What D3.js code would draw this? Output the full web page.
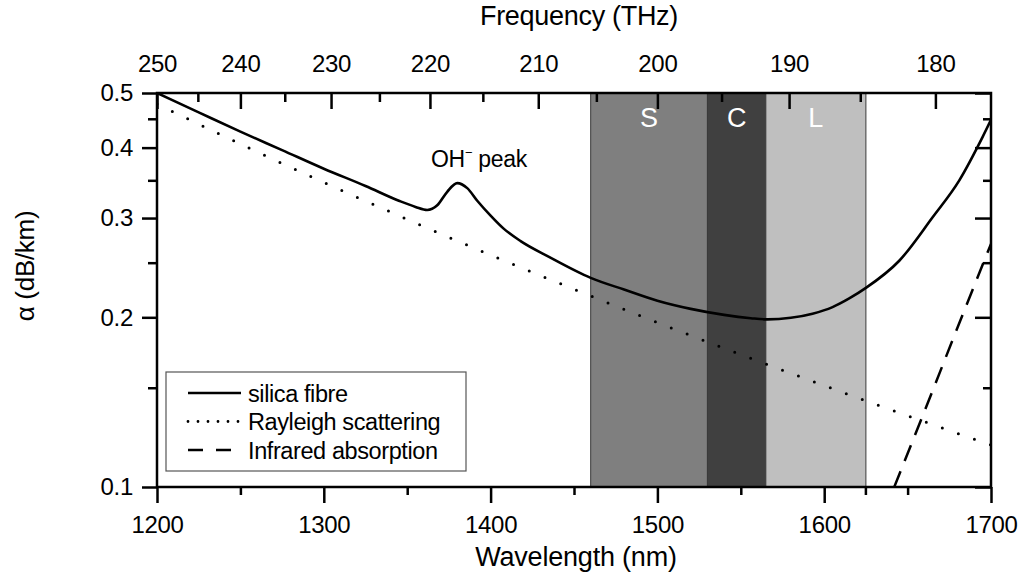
<!DOCTYPE html>
<html>
<head>
<meta charset="utf-8">
<script src="https://cdn.jsdelivr.net/npm/d3@7"></script>
<style>
  html, body { margin: 0; padding: 0; background: #fff; }
  svg text { font-family: "Liberation Sans", Arial, sans-serif; fill: #000; }
</style>
</head>
<body>
<svg id="chart" width="1029" height="580"></svg>
<script>
// Attenuation of silica fibre vs wavelength (nm), loss in dB/km
const silicaWl   = [1200, 1225, 1250, 1275, 1300, 1325, 1345, 1355, 1362, 1368, 1374, 1380, 1386, 1392, 1400, 1408, 1418, 1435, 1460, 1480, 1500, 1520, 1540, 1556, 1566, 1580, 1593, 1605, 1615, 1625, 1645, 1665, 1681, 1695, 1700];
const silicaLoss = [0.500, 0.462, 0.427, 0.396, 0.367, 0.342, 0.322, 0.314, 0.310, 0.316, 0.334, 0.346, 0.339, 0.322, 0.303, 0.287, 0.273, 0.256, 0.235, 0.224, 0.214, 0.207, 0.2020, 0.1993, 0.1983, 0.1996, 0.2030, 0.2085, 0.216, 0.2255, 0.252, 0.301, 0.350, 0.418, 0.448];

const rayleighWl   = [1200, 1250, 1300, 1350, 1400, 1450, 1500, 1550, 1600, 1650, 1700];
const rayleighLoss = [0.478, 0.406, 0.347, 0.2985, 0.258, 0.2243, 0.1958, 0.1718, 0.1513, 0.1338, 0.1187];

const infraredWl   = [1642, 1660, 1680, 1700];
const infraredLoss = [0.100, 0.136, 0.192, 0.270];

// Telecom bands
const bandNames = ["S", "C", "L"];
const bandStart = [1460, 1530, 1565];
const bandEnd   = [1530, 1565, 1625];

// Axis ticks
const wlMajor    = [1200, 1300, 1400, 1500, 1600, 1700];
const wlMinor    = [1250, 1350, 1450, 1550, 1650];
const freqMajor  = [250, 240, 230, 220, 210, 200, 190, 180];
const freqMinor  = [245, 235, 225, 215, 205, 195, 185];
const lossMajor  = [0.1, 0.2, 0.3, 0.4, 0.5];
const lossMinor  = [0.15, 0.25, 0.35, 0.45];
const C_NM_THZ   = 300000; // wavelength (nm) = C / frequency (THz)

const legendLabels = ["silica fibre", "Rayleigh scattering", "Infrared absorption"];

const svg = d3.select("#chart");
const pLeft = 157, pRight = 991, pTop = 93, pBottom = 487;

const x = d3.scaleLinear().domain([1200, 1700]).range([pLeft, pRight]);
const y = d3.scaleLog().domain([0.1, 0.5]).range([pBottom, pTop]);

const bandFill = { S: "#7f7f7f", C: "#404040", L: "#bfbfbf" };

svg.append("defs").append("clipPath").attr("id", "plotClip")
  .append("rect").attr("x", pLeft).attr("y", pTop)
  .attr("width", pRight - pLeft).attr("height", pBottom - pTop);

// Bands
const bands = bandNames.map((n, i) => ({ name: n, a: bandStart[i], b: bandEnd[i] }));
svg.append("g").selectAll("rect").data(bands).join("rect")
  .attr("x", d => x(d.a)).attr("y", pTop)
  .attr("width", d => x(d.b) - x(d.a)).attr("height", pBottom - pTop)
  .attr("fill", d => bandFill[d.name])
  .attr("stroke", "#3a3a3a").attr("stroke-width", 1);
svg.append("g").selectAll("text").data(bands).join("text")
  .attr("x", d => (x(d.a) + x(d.b)) / 2).attr("y", 127)
  .attr("text-anchor", "middle").attr("font-size", 27)
  .style("fill", "#fff").text(d => d.name);
// small tick below the L band edge
svg.append("line")
  .attr("x1", x(bandEnd[2])).attr("x2", x(bandEnd[2]))
  .attr("y1", pBottom).attr("y2", pBottom + 8)
  .attr("stroke", "#000").attr("stroke-width", 2.5);

// Curves
const line = d3.line().x(d => x(d[0])).y(d => y(d[1])).curve(d3.curveMonotoneX);
const plot = svg.append("g").attr("clip-path", "url(#plotClip)");

plot.append("path").datum(rayleighWl.map((w, i) => [w, rayleighLoss[i]]))
  .attr("d", line).attr("fill", "none").attr("stroke", "#000")
  .attr("stroke-width", 3).attr("stroke-linecap", "round")
  .attr("stroke-dasharray", "0 17");

plot.append("path").datum(infraredWl.map((w, i) => [w, infraredLoss[i]]))
  .attr("d", line).attr("fill", "none").attr("stroke", "#000")
  .attr("stroke-width", 2.5).attr("stroke-dasharray", "17 11");

plot.append("path").datum(silicaWl.map((w, i) => [w, silicaLoss[i]]))
  .attr("d", line).attr("fill", "none").attr("stroke", "#000")
  .attr("stroke-width", 2.6).attr("stroke-linejoin", "round");

// Axes
function styleAxis(g) {
  g.select(".domain").remove();
  g.selectAll(".tick line").attr("stroke", "#000").attr("stroke-width", 2.5);
  g.selectAll(".tick text").attr("font-size", 24).attr("letter-spacing", "-0.3px")
    .style("font-family", '"Liberation Sans", Arial, sans-serif');
}

svg.append("g").attr("transform", `translate(0,${pBottom})`)
  .call(d3.axisBottom(x).tickValues(wlMajor).tickSize(16).tickPadding(13).tickFormat(d3.format("d")))
  .call(styleAxis);
svg.append("g").attr("transform", `translate(0,${pBottom})`)
  .call(d3.axisBottom(x).tickValues(wlMinor).tickSize(8).tickFormat(""))
  .call(styleAxis);

svg.append("g").attr("transform", `translate(0,${pTop})`)
  .call(d3.axisTop(x).tickValues(freqMajor.map(f => C_NM_THZ / f)).tickSize(-16).tickPadding(21)
    .tickFormat(w => String(Math.round(C_NM_THZ / w))))
  .call(styleAxis);
svg.append("g").attr("transform", `translate(0,${pTop})`)
  .call(d3.axisTop(x).tickValues(freqMinor.map(f => C_NM_THZ / f)).tickSize(-9).tickFormat(""))
  .call(styleAxis);

svg.append("g").attr("transform", `translate(${pLeft},0)`)
  .call(d3.axisLeft(y).tickValues(lossMajor).tickSize(15).tickPadding(9).tickFormat(d3.format(".1f")))
  .call(styleAxis);
svg.append("g").attr("transform", `translate(${pLeft},0)`)
  .call(d3.axisLeft(y).tickValues(lossMinor).tickSize(9).tickFormat(""))
  .call(styleAxis);

svg.append("g").attr("transform", `translate(${pRight},0)`)
  .call(d3.axisRight(y).tickValues(lossMajor).tickSize(-16).tickFormat(""))
  .call(styleAxis);
svg.append("g").attr("transform", `translate(${pRight},0)`)
  .call(d3.axisRight(y).tickValues(lossMinor).tickSize(-8).tickFormat(""))
  .call(styleAxis);

// Frame
svg.append("rect").attr("x", pLeft).attr("y", pTop)
  .attr("width", pRight - pLeft).attr("height", pBottom - pTop)
  .attr("fill", "none").attr("stroke", "#000").attr("stroke-width", 2.5);

// Axis titles
svg.append("text").attr("x", 579).attr("y", 25).attr("text-anchor", "middle")
  .attr("font-size", 27).attr("letter-spacing", "-0.3px").text("Frequency (THz)");
svg.append("text").attr("x", 576).attr("y", 566).attr("text-anchor", "middle")
  .attr("font-size", 27).attr("letter-spacing", "-0.2px").text("Wavelength (nm)");
svg.append("text").attr("transform", "translate(34,266) rotate(-90)")
  .attr("text-anchor", "middle").attr("font-size", 26).attr("letter-spacing", "-0.3px")
  .text("α (dB/km)");

// OH peak annotation
const oh = svg.append("text").attr("x", 431).attr("y", 167).attr("font-size", 23).attr("letter-spacing", "-0.3px");
oh.append("tspan").text("OH");
oh.append("tspan").attr("dy", -10).attr("dx", 0).attr("font-size", 13).text("−");
oh.append("tspan").attr("dy", 10).text(" peak");

// Legend
const lg = svg.append("g");
lg.append("rect").attr("x", 166).attr("y", 372).attr("width", 300).attr("height", 99)
  .attr("fill", "#fff").attr("stroke", "#555").attr("stroke-width", 1.2);
const dashes = [null, "0 10", "15 13"];
legendLabels.forEach((lab, i) => {
  const ly = 393 + i * 28.5;
  lg.append("line").attr("x1", 188).attr("x2", 241).attr("y1", ly).attr("y2", ly)
    .attr("stroke", "#000").attr("stroke-width", i === 1 ? 2.8 : 2.5)
    .attr("stroke-linecap", i === 1 ? "round" : "butt")
    .attr("stroke-dasharray", dashes[i]);
  lg.append("text").attr("x", 248).attr("y", ly + 8.5).attr("font-size", 23.5)
    .attr("letter-spacing", "-0.4px").text(lab);
});
</script>
</body>
</html>
